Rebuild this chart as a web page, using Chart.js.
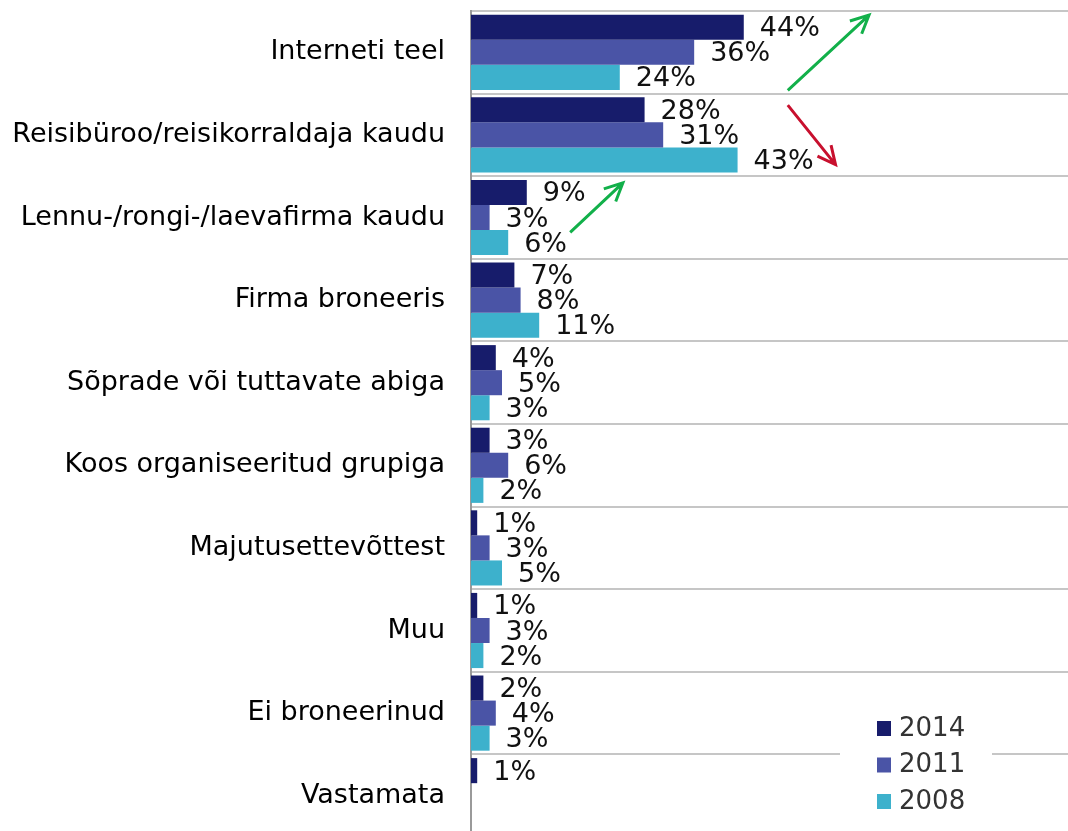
<!DOCTYPE html>
<html lang="et">
<head>
<meta charset="UTF-8">
<title>Broneerimise viis</title>
<script src="https://cdn.jsdelivr.net/npm/chart.js"></script>
<style>
    html, body {
        margin: 0;
        padding: 0;
        background: #fff;
        overflow: hidden;
    }
    #wrap {
        width: 1068px;
        height: 837px;
    }
</style>
</head>
<body>
<div id="wrap"><canvas id="chart"></canvas></div>
<script>
    // andmed
    const categories = [
        'Interneti teel',
        'Reisibüroo/reisikorraldaja kaudu',
        'Lennu-/rongi-/laevafirma kaudu',
        'Firma broneeris',
        'Sõprade või tuttavate abiga',
        'Koos organiseeritud grupiga',
        'Majutusettevõttest',
        'Muu',
        'Ei broneerinud',
        'Vastamata'
    ];
    const years = ['2014', '2011', '2008'];
    const values2014 = [44, 28, 9, 7, 4, 3, 1, 1, 2, 1];
    const values2011 = [36, 31, 3, 8, 5, 6, 3, 3, 4, null];
    const values2008 = [24, 43, 6, 11, 3, 2, 5, 2, 3, null];
    const colors = ['#171c6b', '#4a54a6', '#3db1cc'];

    // nooled: [x, y] (x = %, y = kategooria indeks)
    const arrows = [
        { from: [51.1, 0.46], to: [64.2, -0.45], color: '#12b04a' },
        { from: [51.1, 0.64], to: [58.8, 1.36], color: '#c8102e' },
        { from: [16.0, 2.18], to: [24.5, 1.58], color: '#12b04a' }
    ];

    const FONT = "'DejaVu Sans', Verdana, sans-serif";

    const valueLabels = {
        id: 'valueLabels',
        afterDatasetsDraw(chart) {
            const ctx = chart.ctx;
            ctx.save();
            ctx.font = '27px ' + FONT;
            ctx.fillStyle = '#111';
            ctx.textAlign = 'left';
            ctx.textBaseline = 'middle';
            chart.data.datasets.forEach((ds, i) => {
                chart.getDatasetMeta(i).data.forEach((bar, j) => {
                    const v = ds.data[j];
                    if (v === null) return;
                    ctx.fillText(v + '%', bar.x + 16, bar.y + 2);
                });
            });
            ctx.restore();
        }
    };

    const arrowPlugin = {
        id: 'arrowPlugin',
        afterDatasetsDraw(chart) {
            const ctx = chart.ctx;
            const xs = chart.scales.x, ys = chart.scales.y;
            const step = ys.getPixelForValue(1) - ys.getPixelForValue(0);
            const py = v => ys.getPixelForValue(0) + v * step;
            ctx.save();
            ctx.lineWidth = 3;
            arrows.forEach(a => {
                const x0 = xs.getPixelForValue(a.from[0]), y0 = py(a.from[1]);
                const x1 = xs.getPixelForValue(a.to[0]), y1 = py(a.to[1]);
                const ang = Math.atan2(y1 - y0, x1 - x0);
                const h = 20;
                ctx.strokeStyle = a.color;
                ctx.beginPath();
                ctx.moveTo(x0, y0);
                ctx.lineTo(x1, y1);
                ctx.moveTo(x1 - h * Math.cos(ang - 0.45), y1 - h * Math.sin(ang - 0.45));
                ctx.lineTo(x1, y1);
                ctx.lineTo(x1 - h * Math.cos(ang + 0.45), y1 - h * Math.sin(ang + 0.45));
                ctx.stroke();
            });
            ctx.restore();
        }
    };

    const boxLegend = {
        id: 'boxLegend',
        afterDraw(chart) {
            const ctx = chart.ctx;
            ctx.save();
            ctx.fillStyle = '#fff';
            ctx.fillRect(840, 706, 152, 131);
            ctx.font = '26px ' + FONT;
            ctx.textBaseline = 'middle';
            ctx.textAlign = 'left';
            chart.data.datasets.forEach((ds, i) => {
                const cy = 728 + i * 36.5;
                ctx.fillStyle = ds.backgroundColor;
                ctx.fillRect(877, cy - 7, 14, 15);
                ctx.fillStyle = '#333';
                ctx.fillText(ds.label, 899, cy + 1);
            });
            ctx.restore();
        }
    };

    new Chart(document.getElementById('chart'), {
        type: 'bar',
        data: {
            labels: categories,
            datasets: [
                { label: years[0], data: values2014, backgroundColor: colors[0] },
                { label: years[1], data: values2011, backgroundColor: colors[1] },
                { label: years[2], data: values2008, backgroundColor: colors[2] }
            ]
        },
        options: {
            indexAxis: 'y',
            responsive: true,
            maintainAspectRatio: false,
            animation: false,
            layout: { padding: { top: 11, right: 0, left: 0, bottom: 0 } },
            datasets: {
                bar: { categoryPercentage: 0.91, barPercentage: 1.0, borderWidth: 0 }
            },
            plugins: {
                legend: { display: false },
                tooltip: { enabled: false }
            },
            scales: {
                x: {
                    display: false,
                    min: 0,
                    max: 96.3
                },
                y: {
                    afterFit(scale) {
                        scale.width = 471;
                        scale.paddingTop = 0;
                        scale.paddingBottom = 0;
                    },
                    grid: {
                        color: '#c6c6c6',
                        lineWidth: 2,
                        drawTicks: false
                    },
                    border: { color: '#9a9a9a', width: 2 },
                    ticks: {
                        color: '#000',
                        padding: 26,
                        font: { family: FONT, size: 27 }
                    }
                }
            }
        },
        plugins: [valueLabels, arrowPlugin, boxLegend]
    });
</script>
</body>
</html>
